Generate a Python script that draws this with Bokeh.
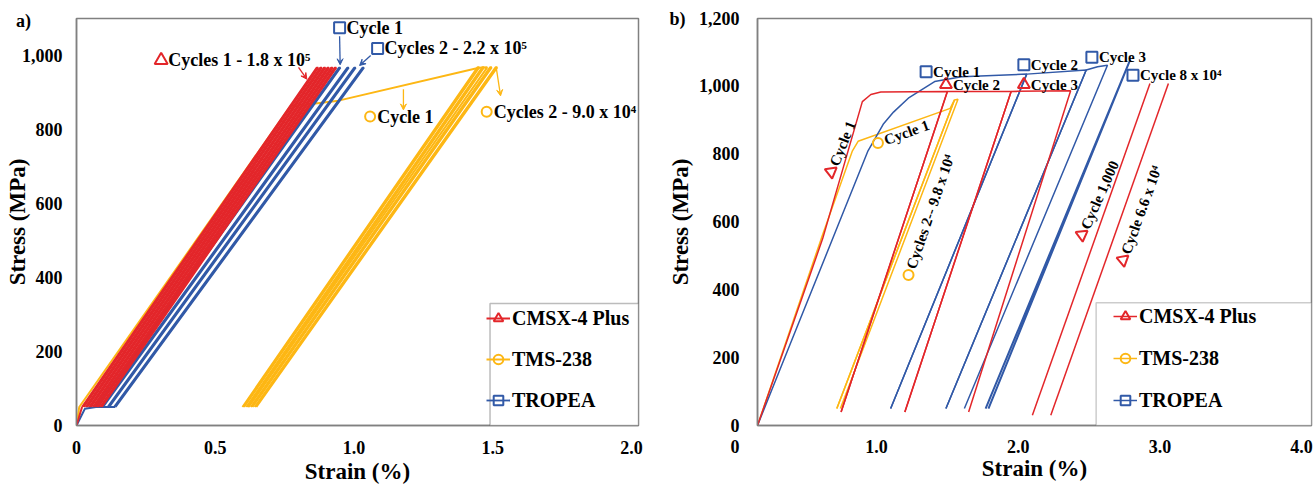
import math
from bokeh.plotting import figure
from bokeh.layouts import row
from bokeh.models import (Range1d, FixedTicker, NumeralTickFormatter, Arrow,
                          VeeHead, BoxAnnotation, Legend, LegendItem)
from bokeh.core.properties import value
from bokeh.embed import file_html
from bokeh.resources import INLINE

RED = "#E3262A"
YEL = "#FDB714"
BLU = "#3159A7"
SERIF = "Liberation Serif"
NB = "\u00a0"

# ---------------- panel a) data (strain %, stress MPa) ----------------
a_stress_lo = 50
a_stress_hi = 967
a_red_lo = [0.020, 0.033, 0.046, 0.059, 0.072, 0.085]
a_red_hi = [0.865, 0.878, 0.891, 0.904, 0.917, 0.930]
a_blue_lo = [0.070, 0.090, 0.112, 0.135]
a_blue_hi = [0.945, 0.975, 1.000, 1.030]
a_blue_base = [0.060, 0.140]
a_yel_lo = [0.598, 0.612, 0.628, 0.642]
a_yel_hi = [1.445, 1.462, 1.490, 1.510]
a_yel_hi_stress = 968
a_red_first_x = [0.0, 0.020]
a_red_first_y = [0, 50]
a_blue_first_x = [0.0, 0.03, 0.070]
a_blue_first_y = [0, 45, 50]
a_yel_c1_x = [0.0, 0.01, 0.77, 0.944, 1.45, 1.48, 0.62]
a_yel_c1_y = [0, 50, 862, 878, 967, 968, 50]

a_xticks = [0, 0.5, 1.0, 1.5, 2.0]
a_yticks = [0, 200, 400, 600, 800, 1000]
a_panel_tick = 1092          # height of the "a)" panel tag

# annotations a)
a_tri_x, a_tri_y, a_tri_text = [0.305], [987], ["Cycles 1 - 1.8 x 10\u2075"]
a_sq_x, a_sq_y, a_sq_text = [0.948, 1.085], [1075, 1019], ["Cycle 1", "Cycles 2 - 2.2 x 10\u2075"]
a_ci_x, a_ci_y, a_ci_text = [1.058, 1.478], [835, 848], ["Cycle 1", "Cycles 2 - 9.0 x 10\u2074"]
a_arrows = [  # x_start, y_start, x_end, y_end, colour
    (0.800, 968, 0.830, 936, RED),
    (0.948, 1052, 0.950, 975, BLU),
    (1.060, 1000, 1.020, 973, BLU),
    (1.178, 909, 1.178, 853, YEL),
    (1.512, 969, 1.528, 891, YEL),
]

# ---------------- panel b) data ----------------
b_red_c1_x = [0.16, 0.62, 0.90, 0.96, 1.03, 1.50, 0.75]
b_red_c1_y = [0, 551, 955, 976, 983, 985, 40]
b_red_c2_x = [0.75, 1.50, 1.95, 1.20]
b_red_c2_y = [40, 985, 985, 40]
b_red_c3_x = [1.20, 1.95, 2.37, 1.65]
b_red_c3_y = [40, 985, 987, 40]
b_red_c1000_x = [2.10, 2.93]
b_red_c1000_y = [30, 1008]
b_red_c66_x = [2.23, 3.06]
b_red_c66_y = [30, 1008]

b_blue_c1_x = [0.16, 0.40, 0.71, 0.94, 1.05, 1.12, 1.23, 1.41, 1.60, 2.06, 1.10]
b_blue_c1_y = [0, 250, 571, 810, 890, 924, 967, 1014, 1028, 1036, 50]
b_blue_c2_x = [1.10, 2.06, 2.48, 1.49]
b_blue_c2_y = [50, 1036, 1048, 50]
b_blue_c3_x = [1.49, 2.48, 2.56, 2.63, 1.62]
b_blue_c3_y = [50, 1048, 1058, 1062, 50]
b_blue_c8_x = [1.77, 2.79, 1.79]
b_blue_c8_y = [50, 1078, 50]

b_yel_c1_x = [0.16, 0.61, 0.83, 0.87, 1.52, 1.55, 0.72]
b_yel_c1_y = [0, 551, 810, 838, 935, 960, 50]
b_yel_c2_x = [0.72, 1.55, 1.575, 0.745]
b_yel_c2_y = [50, 960, 962, 50]

b_x_start = 0.16             # strain at the left edge of panel b's frame
b_xticks = [1.0, 2.0, 3.0, 4.0]
b_yticks = [0, 200, 400, 600, 800, 1000, 1200]

# annotations b)
b_sq_x, b_sq_y = [1.35, 2.04, 2.52, 2.81], [1043, 1064, 1086, 1033]
b_sq_text = ["Cycle 1", "Cycle 2", "Cycle 3", "Cycle 8 x 10\u2074"]
b_tri_x, b_tri_y = [1.49, 2.04], [1005, 1005]
b_tri_text = ["Cycle 2", "Cycle 3"]
b_rot_x = [0.68, 2.45, 2.74]
b_rot_y = [748, 562, 488]
b_rot_ang = [68, 66, 70]
b_rot_text = ["Cycle 1", "Cycle 1,000", "Cycle 6.6 x 10\u2074"]
b_rot_ci_x = [1.01, 1.226]
b_rot_ci_y = [833, 444]
b_rot_ci_ang = [20, 71]
b_rot_ci_text = ["Cycle 1", "Cycles 2-- 9.8 x 10\u2074"]

legend_labels = ["CMSX-4 Plus", "TMS-238", "TROPEA"]


def loops(lo, hi, s_lo, s_hi, d):
    xs, ys = [], []
    for a, b in zip(lo, hi):
        xs.append([a, b, b + d, a + d])
        ys.append([s_lo, s_hi, s_hi, s_lo])
    return xs, ys


def style(p, xticks, yticks):
    p.xgrid.visible = False
    p.ygrid.visible = False
    p.outline_line_color = "#808080"
    p.outline_line_width = 1.5
    p.background_fill_color = "white"
    p.border_fill_color = "white"
    for ax in (p.xaxis[0], p.yaxis[0]):
        ax.axis_line_color = "#808080"
        ax.axis_line_width = 1.5
        ax.major_tick_line_color = None
        ax.minor_tick_line_color = None
        ax.major_label_text_font = SERIF
        ax.major_label_text_font_style = "bold"
        ax.major_label_text_font_size = "18px"
        ax.major_label_text_color = "black"
        ax.axis_label_text_font = SERIF
        ax.axis_label_text_font_style = "bold"
        ax.axis_label_text_font_size = "23px"
        ax.axis_label_text_color = "black"
    p.xaxis.ticker = FixedTicker(ticks=xticks)
    p.yaxis.ticker = FixedTicker(ticks=yticks)
    p.xaxis.formatter = NumeralTickFormatter(format="0.0")
    p.xaxis.major_label_overrides = {0: "0"}
    p.yaxis.formatter = NumeralTickFormatter(format="0,0")
    p.xaxis.major_label_standoff = 9
    p.yaxis.major_label_standoff = 8
    p.xaxis.axis_label = "Strain (%)"
    p.yaxis.axis_label = "Stress (MPa)"
    p.xaxis.axis_label_standoff = 2


def add_legend(p, pairs, x, y, spacing):
    items = [LegendItem(label=lab, renderers=list(rs)) for lab, rs in zip(legend_labels, pairs)]
    leg = Legend(items=items, location=(x, y), orientation="vertical",
                 glyph_width=24, glyph_height=30, label_height=30, spacing=spacing,
                 padding=0, margin=0, label_standoff=2,
                 label_text_font=SERIF, label_text_font_style="bold",
                 label_text_font_size="20px", label_text_color="black",
                 border_line_color=None, background_fill_alpha=0)
    p.add_layout(leg)


def shift(x, y, ang_deg, dist, sx, sy):
    a = math.radians(ang_deg)
    return x + dist * math.cos(a) / sx, y + dist * math.sin(a) / sy


# ================= panel a =================
pa = figure(width=660, height=486, x_range=Range1d(0, 2.025), y_range=Range1d(0, 1100),
            output_backend="svg", toolbar_location=None,
            min_border_left=76, min_border_right=22, min_border_top=15, min_border_bottom=58)
style(pa, a_xticks, a_yticks + [a_panel_tick])
pa.yaxis.major_label_overrides = {a_panel_tick: "a)" + NB * 7}
pa.yaxis.axis_label_standoff = -17

xs, ys = loops(a_yel_lo, a_yel_hi, a_stress_lo, a_yel_hi_stress, 0.006)
ra_yel = pa.multi_line(xs, ys, line_color=YEL, line_width=2)
pa.line(a_yel_c1_x, a_yel_c1_y, line_color=YEL, line_width=2)
pa.line(a_blue_first_x, a_blue_first_y, line_color=BLU, line_width=2)
pa.line(a_blue_base, [a_stress_lo, a_stress_lo], line_color=BLU, line_width=2)
xs, ys = loops(a_blue_lo, a_blue_hi, a_stress_lo, a_stress_hi, 0.006)
ra_blu = pa.multi_line(xs, ys, line_color=BLU, line_width=1.8)
pa.line(a_red_first_x, a_red_first_y, line_color=RED, line_width=2)
xs, ys = loops(a_red_lo, a_red_hi, a_stress_lo, a_stress_hi, 0.006)
ra_red = pa.multi_line(xs, ys, line_color=RED, line_width=2)

for xs0, ys0, xe, ye, c in a_arrows:
    pa.add_layout(Arrow(end=VeeHead(size=6, line_color=c, fill_color=c, line_width=1),
                        x_start=xs0, y_start=ys0, x_end=xe, y_end=ye,
                        line_color=c, line_width=1.3))

SXa, SYa = 562 / 2.025, 413 / 1100
ma_tri = pa.scatter(a_tri_x, a_tri_y, marker="triangle", size=13, fill_color=None, line_color=RED, line_width=2)
ma_sq = pa.scatter(a_sq_x, a_sq_y, marker="square", size=11, fill_color=None, line_color=BLU, line_width=2)
ma_ci = pa.scatter(a_ci_x, a_ci_y, marker="circle", size=10, fill_color=None, line_color=YEL, line_width=2)
for mx, my, txt in zip(a_tri_x + a_sq_x + a_ci_x, a_tri_y + a_sq_y + a_ci_y,
                       a_tri_text + a_sq_text + a_ci_text):
    pa.text([mx + 7 / SXa], [my], text=[txt], text_font=value(SERIF), text_font_style="bold",
            text_font_size="18px", text_baseline="middle", text_align="left", text_color="black")

pa.add_layout(BoxAnnotation(left=1.49, top=330, fill_color="white", fill_alpha=1,
                            line_color="#222222", line_width=1.5))
add_legend(pa, [(ra_red, ma_tri), (ra_yel, ma_ci), (ra_blu, ma_sq)], 410, 10, 11)

# ================= panel b =================
pb = figure(width=656, height=486, x_range=Range1d(b_x_start, 4.07), y_range=Range1d(0, 1200),
            output_backend="svg", toolbar_location=None,
            min_border_left=97, min_border_right=5, min_border_top=18, min_border_bottom=55)
style(pb, [b_x_start] + b_xticks, b_yticks)
pb.yaxis.major_label_standoff = 12
pb.yaxis.major_label_overrides = {1200: "b)" + NB * 3 + "1,200"}
pb.yaxis.axis_label_standoff = -27
pb.xaxis.major_label_overrides = {b_x_start: "0" + NB * 10}
pb.xaxis.major_label_standoff = 5
pb.xaxis.axis_label_standoff = -4

lw = 1.5
rb_yel = pb.line(b_yel_c1_x, b_yel_c1_y, line_color=YEL, line_width=lw)
pb.line(b_yel_c2_x, b_yel_c2_y, line_color=YEL, line_width=lw)
rb_blu = pb.line(b_blue_c1_x, b_blue_c1_y, line_color=BLU, line_width=lw)
pb.line(b_blue_c2_x, b_blue_c2_y, line_color=BLU, line_width=lw)
pb.line(b_blue_c3_x, b_blue_c3_y, line_color=BLU, line_width=lw)
pb.line(b_blue_c8_x, b_blue_c8_y, line_color=BLU, line_width=2)
rb_red = pb.line(b_red_c1_x, b_red_c1_y, line_color=RED, line_width=lw)
pb.line(b_red_c2_x, b_red_c2_y, line_color=RED, line_width=lw)
pb.line(b_red_c3_x, b_red_c3_y, line_color=RED, line_width=lw)
pb.line(b_red_c1000_x, b_red_c1000_y, line_color=RED, line_width=lw)
pb.line(b_red_c66_x, b_red_c66_y, line_color=RED, line_width=lw)

SXb, SYb = 554 / (4.07 - b_x_start), 413 / 1200
mb_sq = pb.scatter(b_sq_x, b_sq_y, marker="square", size=11, fill_color=None, line_color=BLU, line_width=2)
mb_tri = pb.scatter(b_tri_x, b_tri_y, marker="triangle", size=12, fill_color=None, line_color=RED, line_width=2)
for mx, my, txt in zip(b_sq_x + b_tri_x, b_sq_y + b_tri_y, b_sq_text + b_tri_text):
    pb.text([mx + 7 / SXb], [my], text=[txt], text_font=value(SERIF), text_font_style="bold",
            text_font_size="15px", text_baseline="middle", text_align="left", text_color="black")

pb.scatter(b_rot_x, b_rot_y, marker="triangle", size=12, fill_color=None, line_color=RED,
           line_width=2, angle=[math.radians(a) for a in b_rot_ang])
mb_ci = pb.scatter(b_rot_ci_x, b_rot_ci_y, marker="circle", size=10, fill_color=None, line_color=YEL,
                   line_width=2)
for mx, my, ang, txt in zip(b_rot_x + b_rot_ci_x, b_rot_y + b_rot_ci_y,
                            b_rot_ang + b_rot_ci_ang, b_rot_text + b_rot_ci_text):
    tx, ty = shift(mx, my, ang, 7, SXb, SYb)
    pb.text([tx], [ty], text=[txt], angle=math.radians(ang), text_font=value(SERIF),
            text_font_style="bold", text_font_size="15px", text_baseline="middle",
            text_align="left", text_color="black")

pb.add_layout(BoxAnnotation(left=2.55, top=362, fill_color="white", fill_alpha=1,
                            line_color="#555555", line_width=1.5))
add_legend(pb, [(rb_red, mb_tri), (rb_yel, mb_ci), (rb_blu, mb_sq)], 356, 10, 12)

layout = row(pa, pb)
open("out.html", "w").write(file_html(layout, INLINE))
